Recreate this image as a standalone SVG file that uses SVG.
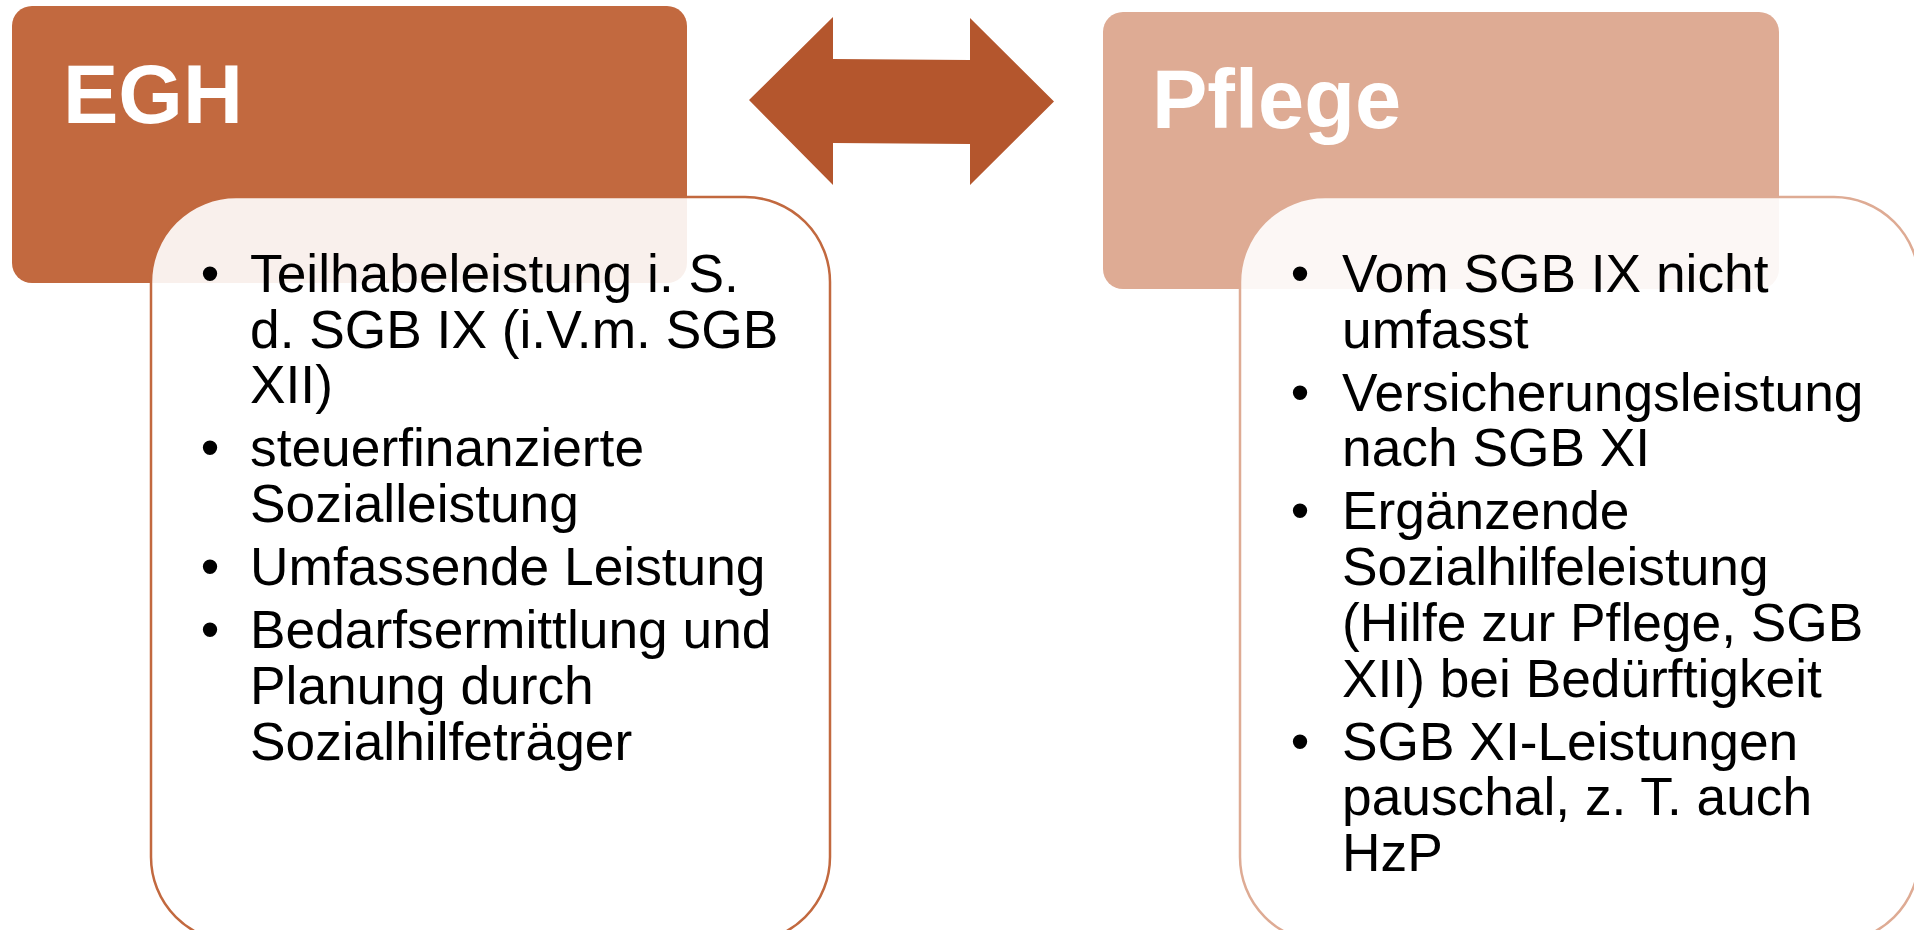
<svg xmlns="http://www.w3.org/2000/svg" width="1914" height="930" viewBox="0 0 1914 930">
<style>
.hdr{font-family:"Liberation Sans",Arial,sans-serif;font-weight:bold;font-size:83px;fill:#ffffff}
.body{font-family:"Liberation Sans",Arial,sans-serif;font-size:53.3px;fill:#000000}
.bul{font-family:"Liberation Sans",Arial,sans-serif;font-size:53px;fill:#000000;text-anchor:middle}
</style>
<rect width="1914" height="930" fill="#ffffff"/>
<g id="egh">
<rect x="12" y="6" width="675" height="277" rx="20" fill="#C2693F"/>
<text class="hdr" x="63" y="123">EGH</text>
</g>
<g id="pflege">
<rect x="1103" y="12" width="676" height="277" rx="20" fill="#DEAB94"/>
<text class="hdr" x="1152" y="128">Pflege</text>
</g>
<g id="egh-text">
<rect x="151" y="197" width="679" height="745" rx="85" fill="#ffffff" fill-opacity="0.9" stroke="#C2693F" stroke-width="2.5"/>
<text class="bul" x="210" y="292">•</text>
<text class="body" x="250" y="292">Teilhabeleistung i. S.</text>
<text class="body" x="250" y="347.7">d. SGB IX (i.V.m. SGB</text>
<text class="body" x="250" y="403.4">XII)</text>
<text class="bul" x="210" y="466.4">•</text>
<text class="body" x="250" y="466.4">steuerfinanzierte</text>
<text class="body" x="250" y="522.1">Sozialleistung</text>
<text class="bul" x="210" y="585.1">•</text>
<text class="body" x="250" y="585.1">Umfassende Leistung</text>
<text class="bul" x="210" y="648.1">•</text>
<text class="body" x="250" y="648.1">Bedarfsermittlung und</text>
<text class="body" x="250" y="703.8">Planung durch</text>
<text class="body" x="250" y="759.5">Sozialhilfeträger</text>
</g>
<g id="pflege-text">
<rect x="1240" y="197" width="679" height="745" rx="85" fill="#ffffff" fill-opacity="0.9" stroke="#DEAB94" stroke-width="2.5"/>
<text class="bul" x="1300" y="292">•</text>
<text class="body" x="1342" y="292">Vom SGB IX nicht</text>
<text class="body" x="1342" y="347.7">umfasst</text>
<text class="bul" x="1300" y="410.7">•</text>
<text class="body" x="1342" y="410.7">Versicherungsleistung</text>
<text class="body" x="1342" y="466.4">nach SGB XI</text>
<text class="bul" x="1300" y="529.4">•</text>
<text class="body" x="1342" y="529.4">Ergänzende</text>
<text class="body" x="1342" y="585.1">Sozialhilfeleistung</text>
<text class="body" x="1342" y="640.8">(Hilfe zur Pflege, SGB</text>
<text class="body" x="1342" y="696.5">XII) bei Bedürftigkeit</text>
<text class="bul" x="1300" y="759.5">•</text>
<text class="body" x="1342" y="759.5">SGB XI-Leistungen</text>
<text class="body" x="1342" y="815.2">pauschal, z. T. auch</text>
<text class="body" x="1342" y="870.9">HzP</text>
</g>
<g id="connectors">
<polygon points="749,100 833,17 833,59 970,60 970,18 1054,101.5 970,185 970,144 833,143 833,185" fill="#B4562D"/>
</g>
</svg>
